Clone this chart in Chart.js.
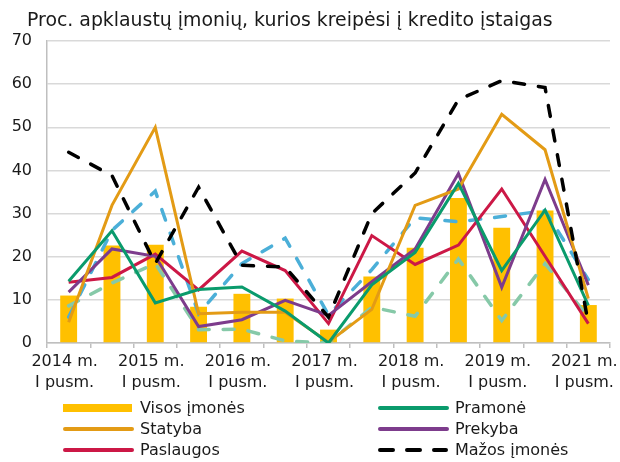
<!DOCTYPE html>
<html>
<head>
<meta charset="utf-8">
<script src="https://cdn.jsdelivr.net/npm/chart.js@4/dist/chart.umd.min.js"></script>
<style>
  body { margin: 0; background: #fff; }
  #wrap { position: relative; width: 620px; height: 462px; font-family: "DejaVu Sans", sans-serif; color: #1a1a1a; }
  #chart { position: absolute; left: 0; top: 0; }
  #title { position: absolute; left: 27px; top: 8px; font-size: 16px; white-space: nowrap; }
  .leg { position: absolute; font-size: 16px; height: 20px; line-height: 20px; white-space: nowrap; }
  .leg svg { position: absolute; left: 0; top: 0; }
  .leg span { position: absolute; left: 77px; top: 0; }
</style>
</head>
<body>
<div id="wrap">
  <canvas id="chart" width="620" height="462"></canvas>
  <div id="title">Proc. apklaustų įmonių, kurios kreipėsi į kredito įstaigas</div>
</div>
<script>
// half-year survey rounds (no 2020 round)
const labels = [
  "2014 m. I pusm.", "2014 m. II pusm.", "2015 m. I pusm.", "2015 m. II pusm.",
  "2016 m. I pusm.", "2016 m. II pusm.", "2017 m. I pusm.", "2017 m. II pusm.",
  "2018 m. I pusm.", "2018 m. II pusm.", "2019 m. I pusm.", "2019 m. II pusm.",
  "2021 m. I pusm."
];

const visos     = [11.0, 22.6, 22.8, 8.4, 11.4, 10.3, 3.1, 15.4, 22.1, 33.6, 26.7, 30.7, 8.8];
const pramone   = [14.3, 26.0, 9.3, 12.4, 13.0, 7.4, 0, 13.5, 21.0, 37.0, 16.8, 30.8, 8.7];
const statyba   = [4.8, 31.9, 50.0, 6.8, 7.1, 7.1, 0.2, 7.8, 31.9, 35.7, 53.0, 44.8, 10.3];
const prekyba   = [11.8, 21.8, 20.1, 3.8, 5.4, 9.9, 6.4, 14.2, 21.8, 39.3, 12.9, 37.9, 13.4];
const paslaugos = [14.1, 15.2, 20.6, 12.3, 21.3, 16.8, 4.5, 24.9, 18.2, 22.7, 35.7, 20.1, 4.5];
const mazos     = [44.2, 38.8, 18.4, 36.1, 18.0, 17.6, 6.0, 30.0, 39.4, 56.4, 60.8, 59.2, 4.5];
// two unlabelled dashed series
const melynos   = [6.0, 26.1, 35.2, 6.8, 18.4, 24.3, 6.5, 17.0, 29.0, 28.1, 29.3, 30.7, 14.7];
const zalsvos   = [8.6, 13.9, 18.4, 3.1, 3.2, 0.5, 0, 8.3, 6.2, 19.5, 5.2, 18.4, 6.0];

const yTicks = [0, 10, 20, 30, 40, 50, 60, 70];

Chart.defaults.font.family = "'DejaVu Sans', sans-serif";
Chart.defaults.font.size = 16;
Chart.defaults.color = "#1a1a1a";

// fit the title to the width it has in the original (about 526px)
(function () {
  const t = document.getElementById("title");
  const ctx = document.createElement("canvas").getContext("2d");
  ctx.font = "100px 'DejaVu Sans'";
  const w = ctx.measureText(t.textContent).width;
  t.style.fontSize = (100 * 526 / w).toFixed(2) + "px";
})();

function line(label, data, color, extra) {
  return Object.assign({
    type: "line", label: label, data: data, borderColor: color, backgroundColor: color,
    borderWidth: 3, pointRadius: 0, tension: 0, fill: false, order: 2,
    borderJoinStyle: "miter", showInLegend: true
  }, extra || {});
}

const dashed = { borderDash: [11, 14], borderWidth: 3.5, borderCapStyle: "round" };

const datasets = [
  { type: "bar", label: "Visos įmonės", data: visos, backgroundColor: "#FFC000",
    barPercentage: 0.39, categoryPercentage: 1, order: 10, showInLegend: true },
  line("Pramonė", pramone, "#0A9B6C"),
  line("Statyba", statyba, "#E39B15"),
  line("Prekyba", prekyba, "#7D3C8C"),
  line("Paslaugos", paslaugos, "#CC1846"),
  line("", zalsvos, "#86C9A8", Object.assign({ order: 5, showInLegend: false }, dashed)),
  line("", melynos, "#4BAFD8", Object.assign({ order: 4, showInLegend: false }, dashed)),
  line("Mažos įmonės", mazos, "#000000", Object.assign({ order: 1 }, dashed))
];

const chart = new Chart(document.getElementById("chart"), {
  type: "bar",
  data: { labels: labels, datasets: datasets },
  options: {
    responsive: false,
    animation: false,
    devicePixelRatio: 1,
    layout: { padding: { left: 0, top: 41, right: 10, bottom: 69 } },
    plugins: { legend: { display: false }, tooltip: { enabled: false }, title: { display: false } },
    scales: {
      x: {
        offset: true,
        grid: { offset: true, drawOnChartArea: false, drawTicks: true, tickLength: 5, color: "#BFBFBF", lineWidth: 1.5 },
        border: { color: "#BFBFBF", width: 1.5 },
        ticks: {
          autoSkip: false, maxRotation: 0, minRotation: 0, padding: 3, labelOffset: -4,
          font: { size: 16, lineHeight: 1.33 },
          callback: function (v, i) {
            if (i % 2 !== 0) return "";
            const s = labels[i];
            const k = s.indexOf(" m.") + 3;
            return [s.slice(0, k), s.slice(k + 1)];
          }
        },
        afterFit: function (s) { s.height = 50; s.paddingLeft = 0; s.paddingRight = 0; }
      },
      y: {
        min: 0, max: 70,
        afterBuildTicks: function (s) { s.ticks = yTicks.map(v => ({ value: v })); },
        grid: { color: "#D9D9D9", lineWidth: 1.5, drawTicks: false },
        border: { color: "#BFBFBF", width: 1.5 },
        ticks: { padding: 15, font: { size: 16 } },
        afterFit: function (s) { s.width = 47; }
      }
    }
  }
});

// legend in two columns, built from the chart's datasets
const wrap = document.getElementById("wrap");
const legendItems = chart.data.datasets.filter(d => d.showInLegend);
const legendOrder = ["Visos įmonės", "Pramonė", "Statyba", "Prekyba", "Paslaugos", "Mažos įmonės"];
legendOrder.forEach(function (name, i) {
  const d = legendItems.find(x => x.label === name);
  const col = i % 2, row = Math.floor(i / 2);
  const el = document.createElement("div");
  el.className = "leg";
  el.style.left = (col === 0 ? 63 : 378) + "px";
  el.style.top = (398 + row * 21) + "px";
  let sw;
  if (d.type === "bar") {
    sw = '<svg width="70" height="20"><rect x="0" y="6" width="69" height="8" fill="' + d.backgroundColor + '"/></svg>';
  } else if (d.borderDash) {
    sw = '<svg width="72" height="20"><line x1="2" y1="10" x2="68" y2="10" stroke="' + d.borderColor +
      '" stroke-width="4" stroke-linecap="round" stroke-dasharray="13 14"/></svg>';
  } else {
    sw = '<svg width="72" height="20"><line x1="2" y1="10" x2="69" y2="10" stroke="' + d.borderColor +
      '" stroke-width="4" stroke-linecap="round"/></svg>';
  }
  el.innerHTML = sw + "<span>" + d.label + "</span>";
  wrap.appendChild(el);
});
</script>
</body>
</html>
